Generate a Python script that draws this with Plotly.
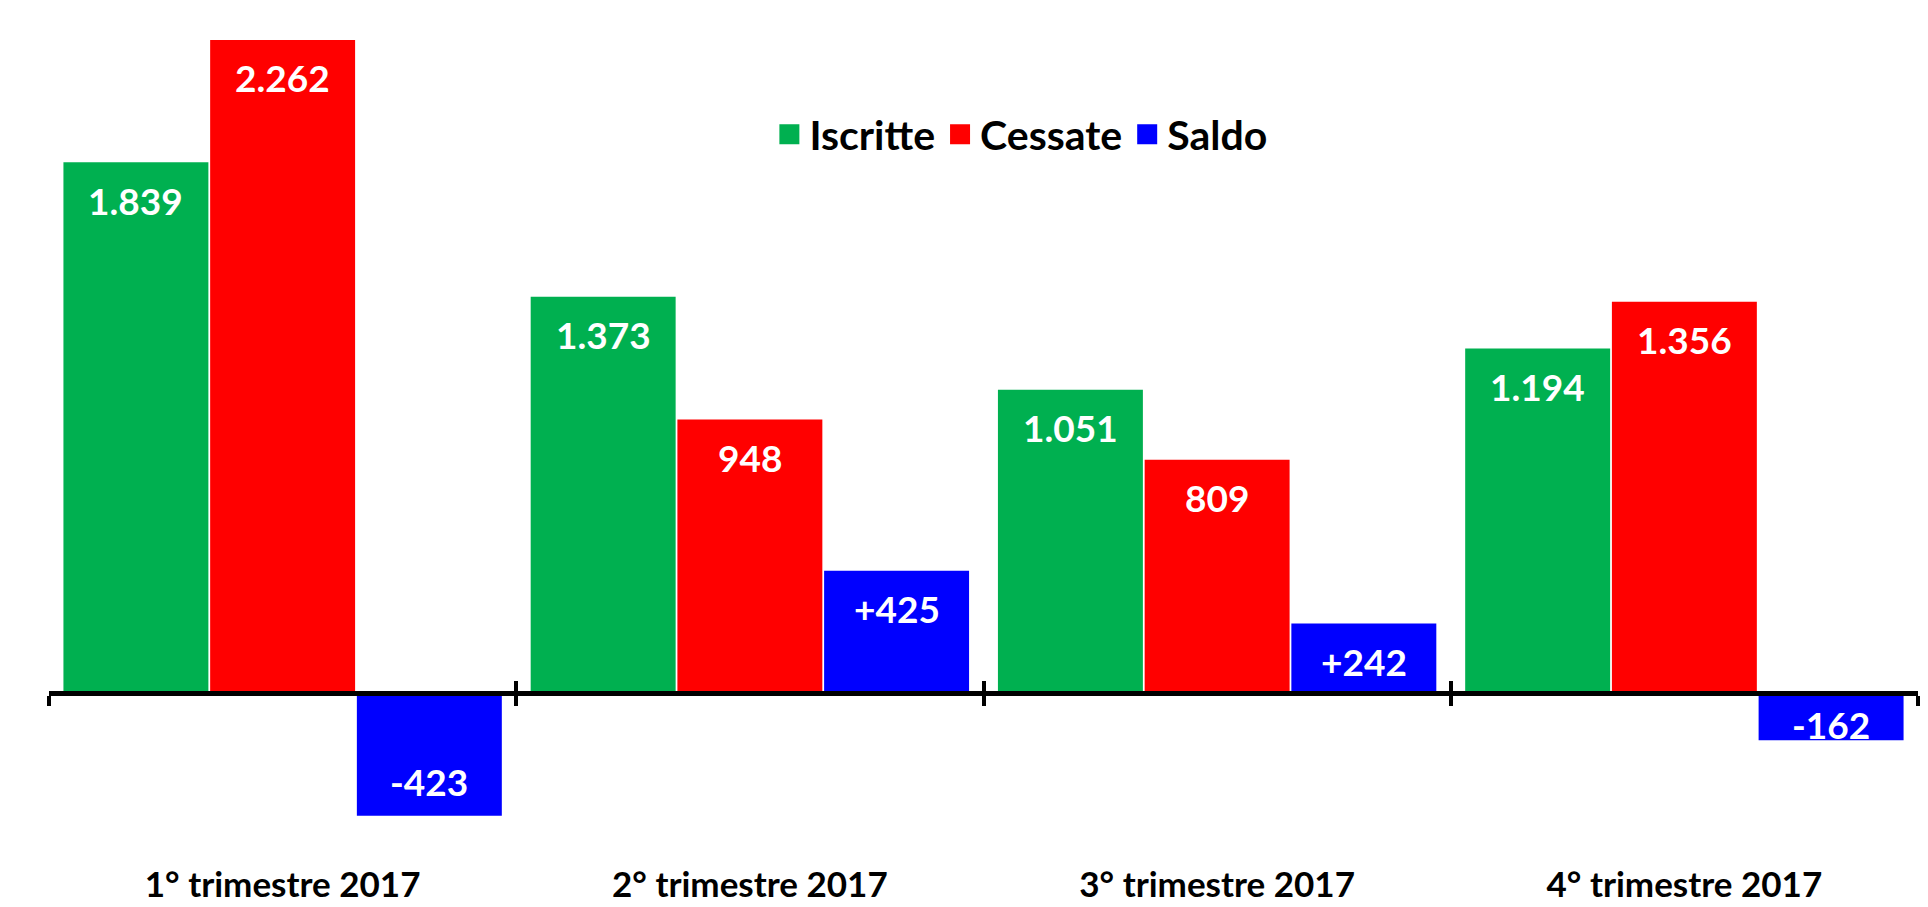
import plotly.graph_objects as go

categories = ["1° trimestre 2017", "2° trimestre 2017", "3° trimestre 2017", "4° trimestre 2017"]
iscritte = [1839, 1373, 1051, 1194]
cessate = [2262, 948, 809, 1356]
saldo = [-423, 425, 242, -162]

series_names = ["Iscritte", "Cessate", "Saldo"]
series_colors = ["#00B050", "#FF0000", "#0000FF"]

W, H = 1928, 907
M_L, M_R, M_T, M_B = 49, 10, 29, 46
Y_MIN, Y_MAX = -580, 2300
BARGAP = 0.058
FONT = "Lato"


def it_fmt(v, signed=False):
    s = f"{abs(v):,}".replace(",", ".")
    if v < 0:
        return "-" + s
    return ("+" + s) if signed else s


fig = go.Figure()
all_series = [iscritte, cessate, saldo]
for name, vals, col in zip(series_names, all_series, series_colors):
    fig.add_trace(go.Bar(
        name=name, x=categories, y=vals, legendgroup=name, showlegend=False,
        marker=dict(color=col, line=dict(width=0)),
        hoverinfo="x+y+name",
    ))
# legend entries with larger square swatches
for name, col in zip(series_names, series_colors):
    fig.add_trace(go.Scatter(
        name=name, x=[None], y=[None], mode="markers", legendgroup=name,
        marker=dict(symbol="square", size=16, color=col, line=dict(color=col, width=4)),
        hoverinfo="skip",
    ))

# value labels
plot_h = H - M_T - M_B
ppu = plot_h / (Y_MAX - Y_MIN)
bw = (1 - BARGAP) / len(all_series)
annotations = []
for si, vals in enumerate(all_series):
    off = (si - (len(all_series) - 1) / 2) * bw
    for ci, v in enumerate(vals):
        if v >= 0:
            yc = v - 38 / ppu
        else:
            yc = min(v + 34 / ppu, -31 / ppu)
        annotations.append(dict(
            x=ci + off, y=yc, xref="x", yref="y",
            text=it_fmt(v, signed=(si == 2)), showarrow=False,
            yanchor="middle", xanchor="center",
            font=dict(family=FONT, size=37, color="white", weight="bold"),
        ))

# invisible helpers to draw the zero axis with crossing ticks
n = len(categories)
fig.add_trace(go.Scatter(x=[None], y=[None], xaxis="x2", showlegend=False, hoverinfo="skip"))
fig.add_trace(go.Scatter(x=[None], y=[None], xaxis="x3", showlegend=False, hoverinfo="skip"))

zero_pos = (0 - Y_MIN) / (Y_MAX - Y_MIN)
boundaries = [i - 0.5 for i in range(n + 1)]
axis_common = dict(
    overlaying="x", anchor="free", position=zero_pos, type="linear",
    range=[-0.5, n - 0.5], showline=True, linecolor="black", linewidth=5,
    tickmode="array", tickvals=boundaries, ticklen=10, tickwidth=3.5,
    tickcolor="black", showticklabels=False, showgrid=False, zeroline=False,
    automargin=False,
)

fig.update_layout(
    width=W, height=H,
    margin=dict(l=M_L, r=M_R, t=M_T, b=M_B, autoexpand=False),
    paper_bgcolor="white", plot_bgcolor="white",
    barmode="group", bargap=BARGAP, bargroupgap=0.012,
    annotations=annotations,
    legend=dict(
        orientation="h", x=0.52, xanchor="center", y=0.873, yanchor="middle",
        font=dict(family=FONT, size=41, color="black", weight="bold"),
        itemclick=False, bgcolor="rgba(0,0,0,0)", itemsizing="trace",
        traceorder="normal",
    ),
    xaxis=dict(
        type="category", range=[-0.5, n - 0.5], showline=False, ticks="",
        showgrid=False, zeroline=False, automargin=False,
        tickfont=dict(family=FONT, size=35, color="black", weight="bold"),
    ),
    xaxis2=dict(ticks="outside", **axis_common),
    xaxis3=dict(ticks="inside", **axis_common),
    yaxis=dict(range=[Y_MIN, Y_MAX], visible=False, showgrid=False,
               zeroline=False, automargin=False),
    showlegend=True,
)

fig.write_html(
    "out.html",
    config={"displayModeBar": False},
    post_script="document.body.style.margin='0';document.body.style.overflow='hidden';",
)
